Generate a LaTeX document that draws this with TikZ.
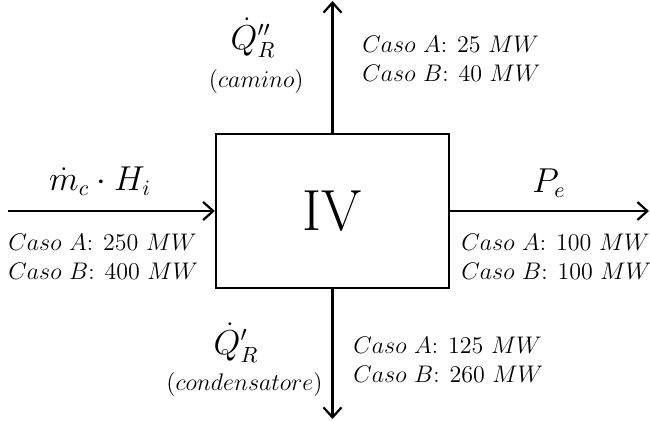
\documentclass[tikz,border=0pt]{standalone}
\usepackage{amsmath}
\usetikzlibrary{arrows.meta,positioning}
\begin{document}
\begin{tikzpicture}[x=0.5pt,y=-0.5pt,>={Straight Barb[length=5pt,width=9pt]}]
\tikzset{
 blk/.style={draw,line width=1.2pt,minimum width=116.5pt,minimum height=77pt,inner sep=0pt},
 a/.style={->,line width=1.1pt},
 sym/.style={font=\fontsize{16}{18}\selectfont,inner sep=0pt},
 par/.style={font=\fontsize{13.2}{15}\selectfont,inner sep=0pt,anchor=east},
 val/.style={font=\fontsize{11.6}{14.5}\selectfont,align=left,inner sep=0pt,anchor=west}
}
\useasboundingbox (0,0) rectangle (650,420);
\node[blk,font=\fontsize{29}{32}\selectfont] (iv) at (332.5,211) {IV};
\coordinate (in) at (8,211);
\coordinate (out) at (649,211);
\coordinate (up) at (332.5,1);
\coordinate (dn) at (332.5,419);
\foreach \i/\j in {in/iv.west,iv.east/out,iv.north/up,iv.south/dn}{\draw[a] (\i)--(\j);}
% flussi
\node[sym] (mc) at (100,181) {$\dot{m}_c\cdot H_i$};
\node[sym] (pe) at (549,183) {$P_e$};
\node[sym] (qs) at (253,38) {$\dot{Q}_R^{\prime\prime}$};
\node[par] (cam) at (304,81) {$(camino)$};
\node[sym] (qc) at (236,343) {$\dot{Q}_R^{\prime}$};
\node[par] (con) at (323,384) {$(condensatore)$};
% valori
\node[val] (vin) at (8,256.5) {$Caso\ A$: $250\ MW$\\$Caso\ B$: $400\ MW$};
\node[val] (vout) at (461,256.5) {$Caso\ A$: $100\ MW$\\$Caso\ B$: $100\ MW$};
\node[val] (vup) at (362,58.5) {$Caso\ A$: $25\ MW$\\$Caso\ B$: $40\ MW$};
\node[val] (vdn) at (353,359.5) {$Caso\ A$: $125\ MW$\\$Caso\ B$: $260\ MW$};
\end{tikzpicture}
\end{document}
